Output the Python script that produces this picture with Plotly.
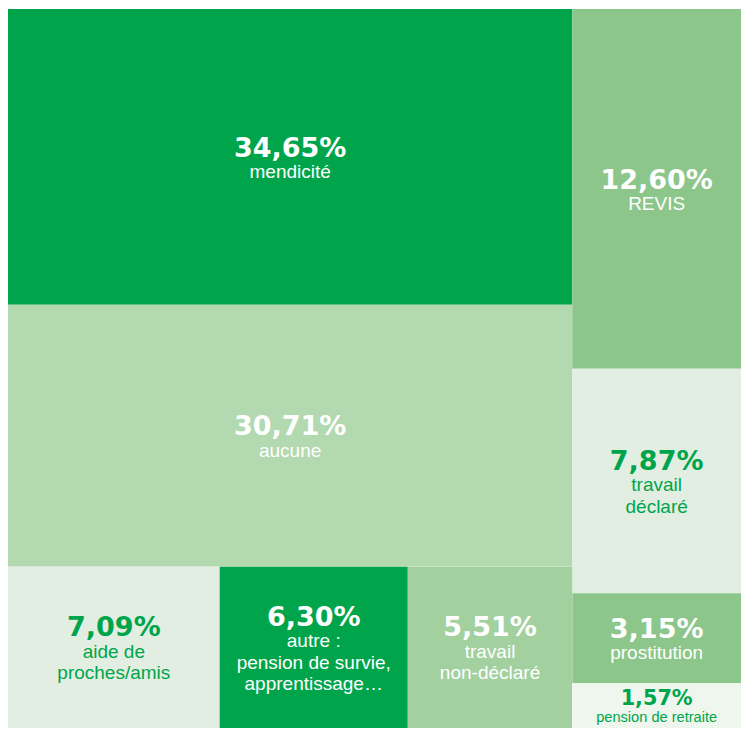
import plotly.graph_objects as go

# ---- data ----
ids = ["root", "L", "R", "mend", "auc", "BL", "aide", "autre", "tnd",
       "revis", "td", "BR", "BR2", "prost", "pens"]
parents = ["", "root", "root", "L", "L", "L", "BL", "BL", "BL",
           "R", "R", "R", "BR", "BR2", "BR2"]
values = [0, 0, 0, 34.65, 30.71, 0, 7.09, 6.30, 5.51,
          12.60, 7.87, 0, 0, 3.15, 1.57]
pct_labels = ["", "", "", "34,65%", "30,71%", "", "7,09%", "6,30%", "5,51%",
              "12,60%", "7,87%", "", "", "3,15%", "1,57%"]
cat_labels = ["", "", "", "mendicité", "aucune", "", "aide de<br>proches/amis",
              "autre :<br>pension de survie,<br>apprentissage…", "travail<br>non-déclaré",
              "REVIS", "travail<br>déclaré", "", "", "prostitution", "pension de retraite"]

# ---- styles ----
DARK = "#00A54B"
MED = "#8CC68A"
LIGHT = "#B3D9B0"
LIGHT2 = "#A3D09F"
PALE = "#E2EEE2"
PALE2 = "#EEF6EE"
cell_colors = ["#ffffff", "#ffffff", "#ffffff", DARK, LIGHT, "#ffffff", PALE, DARK, LIGHT2,
               MED, PALE, "#ffffff", "#ffffff", MED, PALE2]
text_colors = ["white", "white", "white", "white", "white", "white", DARK, "white", "white",
               "white", DARK, "white", "white", "white", DARK]

PCT_STYLE = "font-family:'DejaVu Sans';font-size:27px"
LBL_STYLE = "font-size:19px"
texts = []
for p, c in zip(pct_labels, cat_labels):
    if p:
        lbl = c.replace("<br>", f"</span><br><span style=\"{LBL_STYLE}\">")
        texts.append(f"<span style=\"{PCT_STYLE}\"><b>{p}</b></span><br>"
                     f"<span style=\"{LBL_STYLE}\">{lbl}</span>")
    else:
        texts.append("")

fig = go.Figure(go.Treemap(
    ids=ids,
    labels=ids,
    parents=parents,
    values=values,
    branchvalues="remainder",
    sort=False,
    text=texts,
    texttemplate="%{text}",
    textposition="middle center",
    textfont=dict(family="Liberation Sans, Arial, sans-serif", size=16.5, color=text_colors),
    marker=dict(colors=cell_colors, line=dict(width=0), pad=dict(t=0, l=0, r=0, b=0),
                depthfade=False),
    tiling=dict(packing="slice-dice", pad=0),
    pathbar=dict(visible=False),
    hoverinfo="skip",
    maxdepth=-1,
    root=dict(color="white"),
))

fig.update_layout(
    width=741, height=729,
    margin=dict(l=8, r=0, t=9, b=1),
    paper_bgcolor="white",
    showlegend=False,
)

fig.write_html(
    "out.html",
    config={"displayModeBar": False},
    post_script="document.body.style.margin='0';document.body.style.overflow='hidden';",
)
